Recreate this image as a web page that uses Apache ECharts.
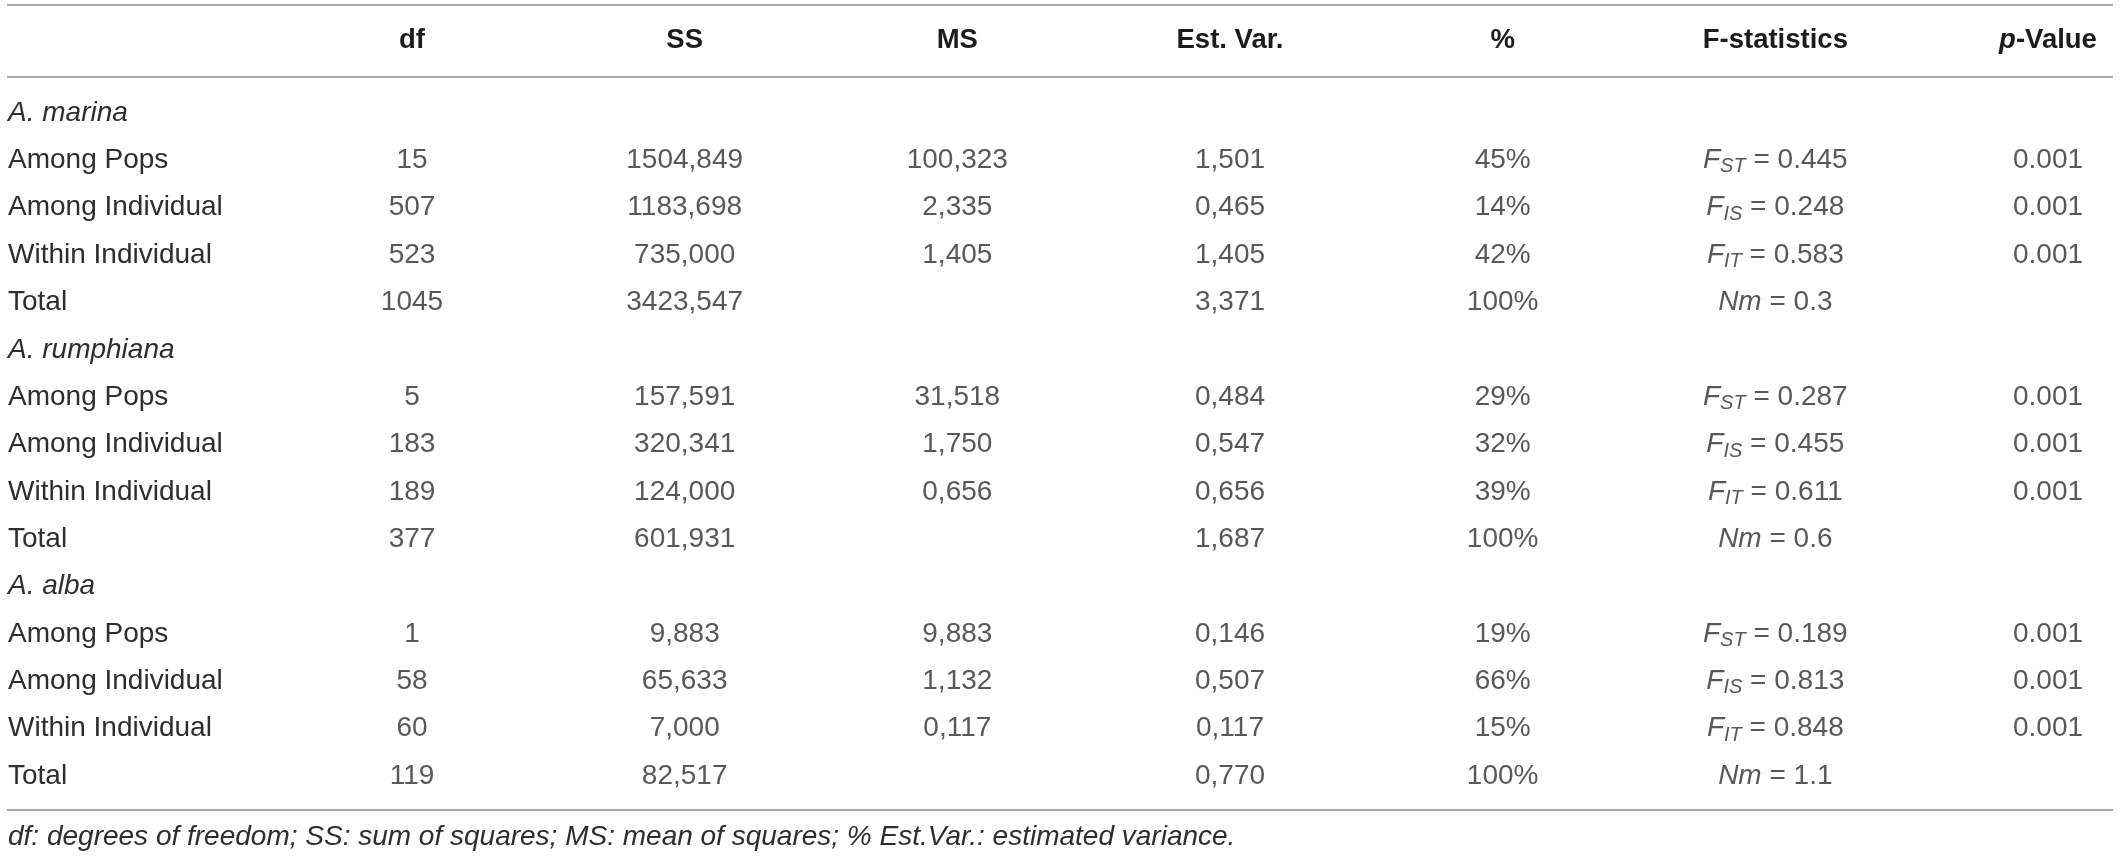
<!DOCTYPE html>
<html>
<head>
<meta charset="utf-8">
<script src="https://cdn.jsdelivr.net/npm/echarts@6/dist/echarts.min.js"></script>
<style>
html, body { margin: 0; padding: 0; background: #fff; }
#main { width: 2120px; height: 859px; }
</style>
</head>
<body>
<div id="main"></div>
<script>
// AMOVA table values
var species = ['A. marina', 'A. rumphiana', 'A. alba'];
var sources = ['Among Pops', 'Among Individual', 'Within Individual', 'Total'];
var headers = ['df', 'SS', 'MS', 'Est. Var.', '%', 'F-statistics', 'p-Value'];

var df = [[15, 507, 523, 1045], [5, 183, 189, 377], [1, 58, 60, 119]];
var ss = [[1504.849, 1183.698, 735.000, 3423.547], [157.591, 320.341, 124.000, 601.931], [9.883, 65.633, 7.000, 82.517]];
var ms = [[100.323, 2.335, 1.405, null], [31.518, 1.750, 0.656, null], [9.883, 1.132, 0.117, null]];
var estVar = [[1.501, 0.465, 1.405, 3.371], [0.484, 0.547, 0.656, 1.687], [0.146, 0.507, 0.117, 0.770]];
var pct = [[45, 14, 42, 100], [29, 32, 39, 100], [19, 66, 15, 100]];
var fNames = ['ST', 'IS', 'IT', 'Nm'];
var fStat = [[0.445, 0.248, 0.583, 0.3], [0.287, 0.455, 0.611, 0.6], [0.189, 0.813, 0.848, 1.1]];
var pValue = [[0.001, 0.001, 0.001, null], [0.001, 0.001, 0.001, null], [0.001, 0.001, 0.001, null]];

var footnote = 'df: degrees of freedom; SS: sum of squares; MS: mean of squares; % Est.Var.: estimated variance.';

var FONT = 'Liberation Sans, Arial, Helvetica, sans-serif';
var BODY = '#2e2e2e';
var SIZE = 28;

function dec(v) { return v.toFixed(3).replace('.', ','); }

// row list: species line followed by its four sources
var rows = [];
var isSpecies = {};
species.forEach(function (sp) {
  rows.push(sp);
  isSpecies[rows.length - 1] = true;
  sources.forEach(function (s) { rows.push(s); });
});

// cell texts per column
var columns = [[], [], [], [], [], [], []];
species.forEach(function (sp, g) {
  sources.forEach(function (s, k) {
    var r = g * 5 + 1 + k;
    columns[0].push([0, r, String(df[g][k])]);
    columns[1].push([1, r, dec(ss[g][k])]);
    if (ms[g][k] != null) columns[2].push([2, r, dec(ms[g][k])]);
    columns[3].push([3, r, dec(estVar[g][k])]);
    columns[4].push([4, r, pct[g][k] + '%']);
    var f = fNames[k] === 'Nm'
      ? '{i|Nm} = ' + fStat[g][k].toFixed(1)
      : '{i|F}{sub|' + fNames[k] + '} = ' + fStat[g][k].toFixed(3);
    columns[5].push([5, r, f]);
    if (pValue[g][k] != null) columns[6].push([6, r, pValue[g][k].toFixed(3)]);
  });
});

var series = columns.map(function (col) {
  return {
    type: 'scatter',
    data: col,
    symbolSize: 1,
    itemStyle: { color: 'rgba(0,0,0,0)' },
    silent: true,
    label: {
      show: true,
      position: 'inside',
      formatter: function (p) { return p.data[2]; },
      fontFamily: FONT,
      fontSize: SIZE,
      color: BODY,
      lineHeight: 33,
      rich: {
        i: { fontStyle: 'italic', fontSize: SIZE, color: BODY, fontFamily: FONT, lineHeight: 33 },
        sub: { fontStyle: 'italic', fontSize: 20, color: BODY, fontFamily: FONT, lineHeight: 20, verticalAlign: 'bottom' }
      }
    }
  };
});

var myChart = echarts.init(document.getElementById('main'));
myChart.setOption({
  animation: false,
  backgroundColor: '#fff',
  grid: { left: 412, right: 72, top: 89.3, bottom: 59.3, containLabel: false, outerBoundsMode: 'none' },
  xAxis: {
    type: 'category',
    position: 'top',
    data: headers,
    boundaryGap: false,
    axisLine: { show: false },
    axisTick: { show: false },
    splitLine: { show: false },
    axisLabel: {
      interval: 0,
      margin: 49,
      verticalAlign: 'middle',
      fontFamily: FONT,
      fontSize: 27.5,
      fontWeight: 'bold',
      color: '#1c1c1c',
      formatter: function (v) { return v === 'p-Value' ? '{pi|p}-Value' : v; },
      rich: {
        pi: { fontStyle: 'italic', fontWeight: 'bold', fontSize: 27.5, fontFamily: FONT, color: '#1c1c1c' }
      }
    }
  },
  yAxis: {
    type: 'category',
    inverse: true,
    data: rows,
    axisLine: { show: false },
    axisTick: { show: false },
    splitLine: { show: false },
    axisLabel: {
      interval: 0,
      margin: 404,
      align: 'left',
      fontFamily: FONT,
      fontSize: SIZE,
      color: BODY,
      formatter: function (v, idx) { return isSpecies[idx] ? '{sp|' + v + '}' : v; },
      rich: {
        sp: { fontStyle: 'italic', fontSize: SIZE, fontFamily: FONT, color: BODY }
      }
    }
  },
  graphic: [
    { type: 'rect', left: 7, top: 4, shape: { width: 2106, height: 2 }, style: { fill: '#a9a9a9' } },
    { type: 'rect', left: 7, top: 76, shape: { width: 2106, height: 2 }, style: { fill: '#a9a9a9' } },
    { type: 'rect', left: 7, top: 809, shape: { width: 2106, height: 2 }, style: { fill: '#a9a9a9' } },
    {
      type: 'text', left: 8, top: 823,
      style: { text: footnote, fontFamily: FONT, fontSize: SIZE, fontStyle: 'italic', fill: BODY }
    }
  ],
  series: series
});
</script>
</body>
</html>
